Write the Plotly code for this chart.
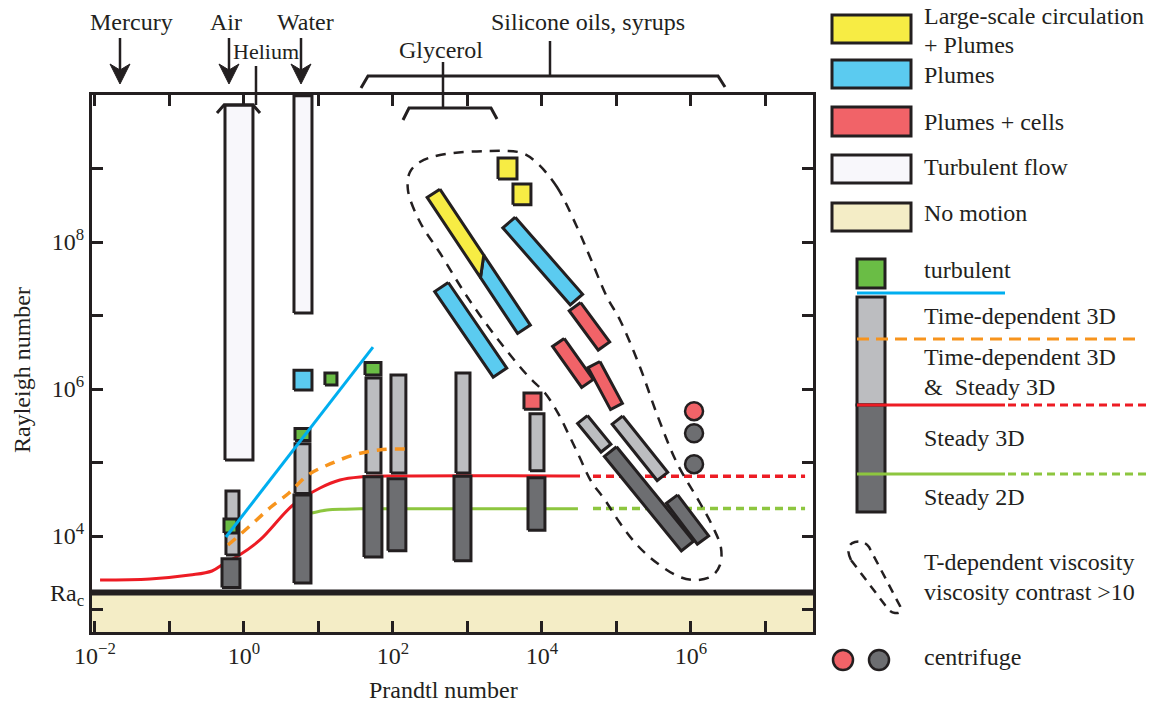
import numpy as np
import plotly.graph_objects as go

FONT = "Liberation Serif"
INK = "#231F20"

YELLOW = "#F7EC44"
BLUE = "#5BCBF0"
RED_FILL = "#F16368"
TURB_FILL = "#F8F7FB"
NO_MOTION = "#F4EDC6"
LIGHT_GRAY = "#BCBDC0"
DARK_GRAY = "#6D6E71"
GREEN_FILL = "#6ABD45"
RED_LINE = "#ED1C24"
GREEN_LINE = "#8DC63F"
ORANGE = "#F7941D"
CYAN = "#00AEEF"

# ---------------------------------------------------------------- axes
LOG_PR_RANGE = [-2.04, 7.638]
LOG_RA_RANGE = [2.694, 10.0]
RA_CRIT = 1708

x_tick_exp = [-2, -1, 0, 1, 2, 3, 4, 5, 6, 7]
y_tick_exp = [3, 4, 5, 6, 7, 8, 9]

# ---------------------------------------------------------------- regime boxes (Pr_lo, Pr_hi, Ra_lo, Ra_hi)
turbulent_flow_boxes = [(0.556, 1.32, 1.08e5, 7.3e9),
                        (4.69, 8.18, 1.08e7, 9.8e9)]
time_dependent_boxes = [(0.573, 0.857, 5.5e3, 4.1e4),
                        (4.84, 7.69, 3.8e4, 1.8e5),
                        (43.4, 69.0, 7.2e4, 1.41e6),
                        (94.0, 149.0, 7.2e4, 1.55e6),
                        (701, 1081, 7.2e4, 1.65e6),
                        (6900, 10640, 7.7e4, 4.6e5)]
steady_boxes = [(0.507, 0.883, 2.0e3, 4.9e3),
                (4.69, 7.93, 2.3e3, 3.6e4),
                (40.8, 71.1, 5.2e3, 6.4e4),
                (85.7, 149.0, 6.3e3, 6.0e4),
                (659, 1114, 4.6e3, 6.5e4),
                (6490, 10960, 1.2e4, 6.2e4)]
turbulent_boxes = [(0.539, 0.805, 1.1e4, 1.7e4),
                   (4.84, 7.69, 2.0e5, 2.9e5),
                   (12.2, 17.7, 1.13e6, 1.65e6),
                   (42.1, 69.0, 1.55e6, 2.3e6)]
plumes_boxes = [(4.69, 8.18, 9.7e5, 1.8e6)]
plumes_cells_boxes = [(5730, 9700, 5.3e5, 8.8e5)]
lsc_boxes = [(2570, 4620, 7.2e8, 1.39e9),
             (4080, 7110, 3.2e8, 6.15e8)]

# ---------------------------------------------------------------- tilted bars (Pr0, Ra0, Pr1, Ra1, width in decades)
lsc_plumes_bar = (350, 4.6e8, 5730, 6.5e6, 0.205)
lsc_split_right, lsc_split_left = 0.485, 0.59
plumes_bars = [(448, 2.44e7, 2730, 1.67e6, 0.22),
               (3610, 1.84e8, 29000, 1.65e7, 0.22)]
plumes_cells_bars = [(49900, 2.15e6, 1.0e5, 5.78e5, 0.18),
                     (16600, 4.3e6, 40800, 1.19e6, 0.19),
                     (27700, 1.32e7, 67900, 3.85e6, 0.19)]
time_dependent_bars = [(35000, 3.85e5, 72300, 1.57e5, 0.17),
                       (1.03e5, 3.78e5, 4.14e5, 6.46e4, 0.18)]
steady_bars = [(5.56e5, 3.18e4, 1.45e6, 8.8e3, 0.19),
               (83000, 1.41e5, 8.97e5, 7.3e3, 0.21)]

# ---------------------------------------------------------------- centrifuge experiments
centrifuge_pr = [1.10e6, 1.10e6, 1.10e6]
centrifuge_ra = [5.0e5, 2.5e5, 9.5e4]
centrifuge_color = [RED_FILL, DARK_GRAY, DARK_GRAY]

# ---------------------------------------------------------------- transition curves
steady3d_pr = [0.0117, 0.0547, 0.188, 0.372, 0.556, 0.830, 1.64, 4.55, 10.5, 19.4, 36.1, 124, 32400]
steady3d_ra = [2518, 2600, 2944, 3342, 4295, 5346, 8830, 26400, 45000, 57800, 63500, 65500, 65500]
steady3d_ext_pr = [48400, 3.4e7]
steady3d_ext_ra = [65000, 65000]

steady2d_pr = [8.18, 13.0, 22.7, 36.1, 30400]
steady2d_ra = [20600, 22600, 23200, 23400, 23400]
steady2d_ext_pr = [48400, 3.4e7]
steady2d_ext_ra = [23600, 23600]

timedep_pr = [0.610, 1.24, 2.30, 4.02, 7.23, 14.3, 30.0, 64.9, 140, 169]
timedep_ra = [7540, 14100, 24800, 38500, 67600, 95500, 1.27e5, 1.48e5, 1.53e5, 1.53e5]

turbulent_pr = [0.573, 53.9]
turbulent_ra = [9690, 3.72e6]

# ---------------------------------------------------------------- temperature-dependent viscosity envelope (log10 values)
envelope_log_pr = [3.933, 4.201, 4.470, 4.644, 4.872, 5.047, 5.315, 5.557, 5.812, 6.121,
                   6.295, 6.403, 6.389, 6.282, 6.081, 5.852, 5.544, 5.289, 5.047, 4.846,
                   4.658, 4.510, 4.362, 4.215, 4.040, 3.812, 3.436, 3.007, 2.631, 2.362,
                   2.201, 2.228, 2.362, 2.631, 3.302, 3.732, 3.933]
envelope_log_ra = [9.075, 8.748, 8.204, 7.796, 7.252, 6.939, 6.299, 5.619, 4.993, 4.449,
                   4.122, 3.837, 3.605, 3.456, 3.401, 3.442, 3.633, 3.864, 4.177, 4.490,
                   4.748, 5.061, 5.374, 5.673, 5.946, 6.177, 6.639, 7.238, 7.850, 8.272,
                   8.707, 8.952, 9.088, 9.184, 9.238, 9.211, 9.075]


def box_xy(box):
    x0, x1, y0, y1 = box
    return [x0, x1, x1, x0, x0], [y0, y0, y1, y1, y0]


def bar_xy(bar, ta=(0.0, 1.0), tb=(0.0, 1.0)):
    pr0, ra0, pr1, ra1, w = bar
    p0 = np.array([np.log10(pr0), np.log10(ra0)])
    p1 = np.array([np.log10(pr1), np.log10(ra1)])
    d = p1 - p0
    n = np.array([-d[1], d[0]]) / np.hypot(d[0], d[1])
    a0 = p0 + d * ta[0] + n * w / 2
    a1 = p0 + d * ta[1] + n * w / 2
    b1 = p0 + d * tb[1] - n * w / 2
    b0 = p0 + d * tb[0] - n * w / 2
    pts = np.array([a0, a1, b1, b0, a0])
    return list(10 ** pts[:, 0]), list(10 ** pts[:, 1])


fig = go.Figure()


def add_region(xs, ys, fill, width=3.0, color=INK):
    fig.add_trace(go.Scatter(x=xs, y=ys, mode="lines", fill="toself", fillcolor=fill,
                             line=dict(color=color, width=width), hoverinfo="skip",
                             showlegend=False))


def add_curve(xs, ys, color, width=3.0, dash="solid", shape="spline"):
    fig.add_trace(go.Scatter(x=xs, y=ys, mode="lines",
                             line=dict(color=color, width=width, dash=dash, shape=shape),
                             hoverinfo="skip", showlegend=False))


x_lo = 10 ** (LOG_PR_RANGE[0] - 0.3)
x_hi = 10 ** (LOG_PR_RANGE[1] + 0.3)

# no-motion band below the critical Rayleigh number
add_region([x_lo, x_hi, x_hi, x_lo, x_lo], [10.0, 10.0, RA_CRIT, RA_CRIT, 10.0],
           NO_MOTION, width=0, color=NO_MOTION)

# steady 3D and steady 2D boundaries
add_curve(steady3d_pr, steady3d_ra, RED_LINE, 3)
add_curve(steady3d_ext_pr, steady3d_ext_ra, RED_LINE, 3.5, dash="8px,5px", shape="linear")
add_curve(steady2d_pr, steady2d_ra, GREEN_LINE, 3)
add_curve(steady2d_ext_pr, steady2d_ext_ra, GREEN_LINE, 3.5, dash="8px,5px", shape="linear")

for b in turbulent_flow_boxes:
    add_region(*box_xy(b), TURB_FILL)
for b in time_dependent_boxes:
    add_region(*box_xy(b), LIGHT_GRAY)
for b in steady_boxes:
    add_region(*box_xy(b), DARK_GRAY)
for b in turbulent_boxes:
    add_region(*box_xy(b), GREEN_FILL)
for b in plumes_boxes:
    add_region(*box_xy(b), BLUE)
for b in plumes_cells_boxes:
    add_region(*box_xy(b), RED_FILL)
for b in lsc_boxes:
    add_region(*box_xy(b), YELLOW)

# tilted bars (temperature-dependent viscosity experiments)
add_region(*bar_xy(lsc_plumes_bar, ta=(lsc_split_right, 1.0), tb=(lsc_split_left, 1.0)), BLUE)
add_region(*bar_xy(lsc_plumes_bar, ta=(0.0, lsc_split_right), tb=(0.0, lsc_split_left)), YELLOW)
for b in plumes_bars:
    add_region(*bar_xy(b), BLUE)
for b in plumes_cells_bars:
    add_region(*bar_xy(b), RED_FILL)
for b in time_dependent_bars:
    add_region(*bar_xy(b), LIGHT_GRAY)
for b in steady_bars:
    add_region(*bar_xy(b), DARK_GRAY)

# envelope of the variable-viscosity runs
add_curve([10 ** v for v in envelope_log_pr], [10 ** v for v in envelope_log_ra],
          INK, 2.5, dash="10px,8px")

# time-dependence and turbulence thresholds
add_curve(timedep_pr, timedep_ra, ORANGE, 3.5, dash="10px,8px")
add_curve(turbulent_pr, turbulent_ra, CYAN, 3, shape="linear")

fig.add_trace(go.Scatter(x=centrifuge_pr, y=centrifuge_ra, mode="markers",
                         marker=dict(size=18, color=centrifuge_color,
                                     line=dict(color=INK, width=2.5)),
                         hoverinfo="skip", showlegend=False))

# critical Rayleigh number
add_curve([x_lo, x_hi], [RA_CRIT, RA_CRIT], INK, 6, shape="linear")


def sup_label(e):
    s = str(e).replace("-", "\u2212")
    return f"10<sup>{s}</sup>"


x_ticktext = [sup_label(e) if e % 2 == 0 else "" for e in x_tick_exp]
y_tickvals = [RA_CRIT] + [10 ** e for e in y_tick_exp]
y_ticktext = ["Ra<sub>c</sub>"] + [sup_label(e) if e % 2 == 0 else "" for e in y_tick_exp]

axis_common = dict(type="log", showline=True, linecolor=INK, linewidth=3, mirror="ticks",
                   ticks="inside", ticklen=11, tickwidth=2.5, tickcolor=INK,
                   showgrid=False, zeroline=False,
                   tickfont=dict(family=FONT, size=24, color=INK))

fig.update_xaxes(range=LOG_PR_RANGE, tickvals=[10 ** e for e in x_tick_exp],
                 ticktext=x_ticktext, **axis_common)
fig.update_yaxes(range=LOG_RA_RANGE, tickvals=y_tickvals, ticktext=y_ticktext,
                 **axis_common)

# ---------------------------------------------------------------- decorations in page pixels
L, T, W, H = 92, 95, 721, 537


def px(x):
    return (x - L) / W


def py(y):
    return (T + H - y) / H


def P(x, y):
    return f"{px(x):.5f},{py(y):.5f}"


shapes = []
annotations = []


def path(points, closed=False, width=3.0, color=INK, fill=None, dash="solid"):
    d = "M " + " L ".join(P(x, y) for x, y in points)
    if closed:
        d += " Z"
    shapes.append(dict(type="path", xref="paper", yref="paper", path=d,
                       line=dict(color=color, width=width, dash=dash),
                       fillcolor=fill if fill else "rgba(0,0,0,0)", layer="above"))


def rect(x0, y0, x1, y1, fill, width=3.0):
    shapes.append(dict(type="rect", xref="paper", yref="paper",
                       x0=px(x0), x1=px(x1), y0=py(y1), y1=py(y0),
                       fillcolor=fill, line=dict(color=INK, width=width), layer="above"))


def text(s, x, y, size=24, anchor="left", angle=0):
    annotations.append(dict(text=s, x=px(x), y=py(y), xref="paper", yref="paper",
                            showarrow=False, xanchor=anchor, yanchor="middle",
                            textangle=angle,
                            font=dict(family=FONT, size=size, color=INK)))


def arrow(x):
    path([(x, 38), (x, 72)], width=2.5)
    path([(x - 10, 64), (x, 84), (x + 10, 64), (x, 70)], closed=True, width=1, fill=INK)


# fluid labels above the frame
text("Mercury", 131, 22, anchor="center")
arrow(120)
text("Air", 226, 22, anchor="center")
arrow(229)
text("Water", 305, 22, anchor="center")
arrow(301)
text("Helium", 266, 51, size=22, anchor="center")
path([(256, 66), (256, 105)], width=2.5)
path([(217, 113), (224, 105), (253, 105), (260, 113)], width=3)
text("Glycerol", 441, 50, anchor="center")
path([(443, 62), (443, 108)], width=2.5)
path([(403, 120), (409, 108), (491, 108), (497, 119)], width=3)
text("Silicone oils, syrups", 588, 22, anchor="center")
path([(550, 41), (550, 76)], width=2.5)
path([(361, 88), (368, 76), (718, 76), (725, 87)], width=3)

# axis titles
text("Rayleigh number", 22, 370, anchor="center", angle=-90)
text("Prandtl number", 443, 690, anchor="center")

# key: regime colours
rect(832, 15, 911, 43, YELLOW)
rect(832, 60, 911, 88, BLUE)
rect(832, 107, 911, 136, RED_FILL)
rect(832, 155, 911, 183, TURB_FILL)
rect(832, 203, 911, 231, NO_MOTION)
text("Large-scale circulation", 922, 16)
text("+ Plumes", 922, 45)
text("Plumes", 922, 75)
text("Plumes + cells", 922, 122)
text("Turbulent flow", 922, 167)
text("No motion", 922, 213)

# key: stability column
rect(857, 259, 885, 288, GREEN_FILL)
rect(857, 297, 885, 405, LIGHT_GRAY)
rect(857, 405, 885, 512, DARK_GRAY)
path([(857, 293), (1005, 293)], width=3, color=CYAN)
path([(857, 339), (1140, 339)], width=3, color=ORANGE, dash="12px,7px")
path([(857, 405), (1005, 405)], width=3, color=RED_LINE)
path([(1008, 405), (1147, 405)], width=3, color=RED_LINE, dash="8px,5px")
path([(857, 474), (1005, 474)], width=3, color=GREEN_LINE)
path([(1008, 474), (1147, 474)], width=3, color=GREEN_LINE, dash="8px,5px")
text("turbulent", 922, 270)
text("Time-dependent 3D", 922, 316)
text("Time-dependent 3D", 922, 357)
text("&amp;  Steady 3D", 922, 387)
text("Steady 3D", 922, 438)
text("Steady 2D", 922, 497)

# key: variable viscosity loop and centrifuge
shapes.append(dict(type="path", xref="paper", yref="paper",
                   path=("M " + P(851, 560) + " Q " + P(844, 545) + " " + P(855, 542)
                         + " Q " + P(864, 540) + " " + P(869, 547)
                         + " L " + P(900, 606) + " Q " + P(903, 614) + " " + P(895, 613)
                         + " Q " + P(889, 612) + " " + P(885, 605) + " Z"),
                   line=dict(color=INK, width=2.5, dash="9px,7px"), layer="above"))
text("T-dependent viscosity", 922, 562)
text("viscosity contrast >10", 922, 592)
for cx, col in [(843, RED_FILL), (879, DARK_GRAY)]:
    shapes.append(dict(type="circle", xref="paper", yref="paper",
                       x0=px(cx - 10), x1=px(cx + 10), y0=py(670), y1=py(650),
                       fillcolor=col, line=dict(color=INK, width=2.5), layer="above"))
text("centrifuge", 922, 657)

fig.update_layout(width=1157, height=702, autosize=False,
                  margin=dict(l=L, r=1157 - L - W, t=T, b=702 - T - H, pad=0),
                  paper_bgcolor="white", plot_bgcolor="white",
                  shapes=shapes, annotations=annotations, showlegend=False,
                  font=dict(family=FONT, color=INK))

fig.write_html("out.html")
